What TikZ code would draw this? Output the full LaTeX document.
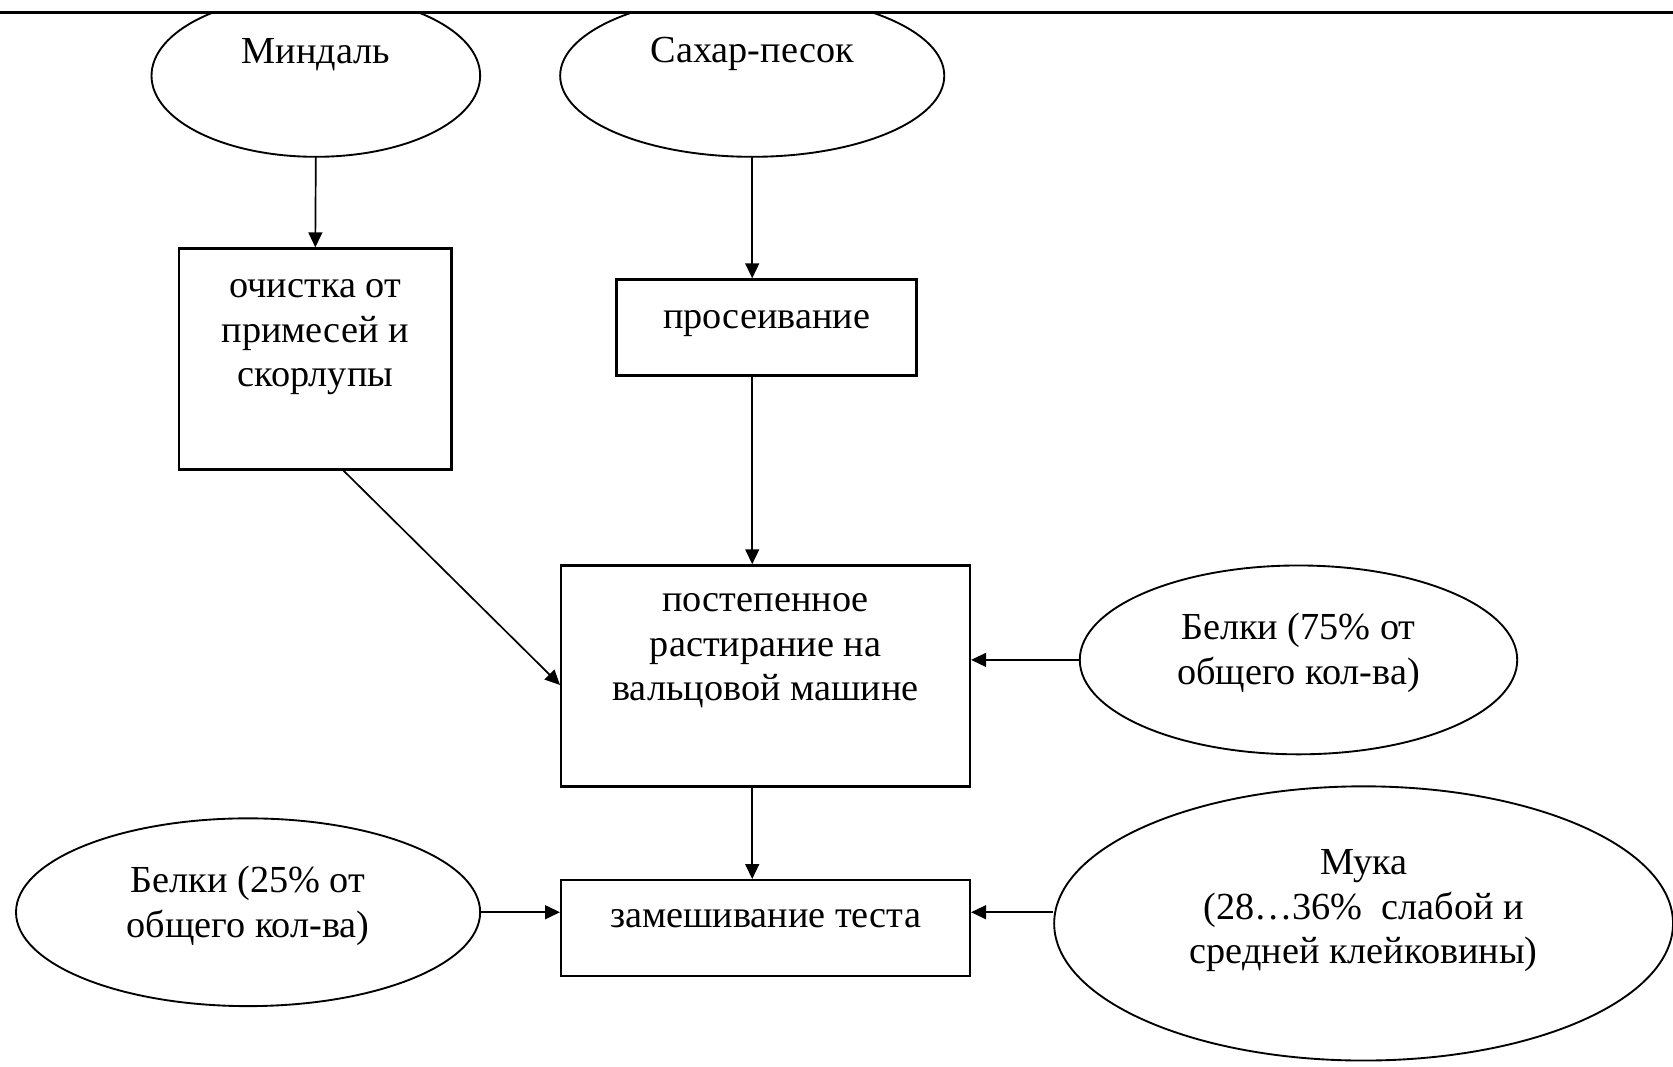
\documentclass[tikz,border=0pt]{standalone}
\usepackage{fontspec}
\setmainfont{Liberation Serif}
\usetikzlibrary{arrows.meta,shapes.geometric}
\tikzset{
  txt/.style = {align=center, inner sep=0pt, text centered,
    font=\fontsize{10.2}{11.9}\selectfont},
  stage/.style = {rectangle, draw=black, line width=0.65pt,
    inner sep=0pt},% этап обработки
  ingr/.style = {ellipse, draw=black, line width=0.5pt,
    inner sep=0pt},% сырьё
  lbl/.style 2 args = {label={[txt, yshift=#1]center:{#2}}},
  conn/.style = {->, line width=0.45pt}
}
\begin{document}
\begin{tikzpicture}[>={Triangle[length=1.4mm,width=1.3mm]}]
\useasboundingbox (0,0) rectangle (15.68,10);
\draw[line width=0.7pt] (0,9.88) -- (15.68,9.88);
\begin{scope}
  \clip (0,0) rectangle (15.68,9.88);
  \node[ingr, minimum width=3.08cm, minimum height=1.52cm,
    lbl={2.0mm}{Миндаль}] (mindal) at (2.96,9.29) {};
  \node[ingr, minimum width=3.60cm, minimum height=1.52cm,
    lbl={2.0mm}{Сахар-песок}] (sahar) at (7.05,9.29) {};
\end{scope}
\node[stage, minimum width=2.55cm, minimum height=2.07cm,
  lbl={2.05mm}{очистка от\\примесей и\\скорлупы}] (ochistka) at (2.955,6.635) {};
\node[stage, minimum width=2.81cm, minimum height=0.90cm,
  lbl={0.4mm}{просеивание}] (proseiv) at (7.185,6.93) {};
\node[stage, minimum width=3.83cm, minimum height=2.07cm,
  lbl={2.35mm}{постепенное\\растирание на\\вальцовой машине}] (rastir) at (7.175,3.665) {};
\node[stage, minimum width=3.83cm, minimum height=0.90cm,
  lbl={0.9mm}{замешивание теста}] (zamesh) at (7.175,1.30) {};
\node[ingr, minimum width=4.10cm, minimum height=1.77cm,
  lbl={0.65mm}{Белки (75\% от\\общего кол-ва)}] (belki75) at (12.17,3.815) {};
\node[ingr, minimum width=4.35cm, minimum height=1.76cm,
  lbl={0.6mm}{Белки (25\% от\\общего кол-ва)}] (belki25) at (2.325,1.45) {};
\node[ingr, minimum width=5.80cm, minimum height=2.57cm,
  lbl={1.2mm}{Мука\\(28…36\%\ \ слабой и\\средней клейковины)}] (muka) at (12.78,1.345) {};
% стрелки
\draw[conn] (mindal.south) -- (ochistka.north);
\draw[conn] (sahar.south) -- (sahar.south |- proseiv.north);
\draw[conn] (sahar.south |- proseiv.south) -- (sahar.south |- rastir.north);
\draw[conn] (rastir.south -| sahar.south) -- (sahar.south |- zamesh.north);
\draw[conn] ([xshift=2.65mm]ochistka.south) -- ([yshift=-0.85mm]rastir.west);
\draw[conn] (belki75.west) -- (belki75.west -| rastir.east);
\draw[conn] (belki25.east) -- (belki25.east -| zamesh.west);
\draw[conn] (muka.west |- belki25.east) -- (belki25.east -| zamesh.east);
\end{tikzpicture}
\end{document}
